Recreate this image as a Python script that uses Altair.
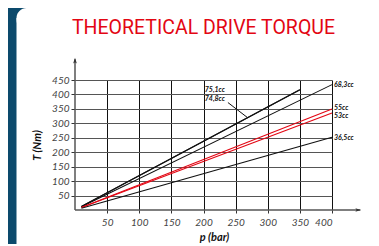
import altair as alt
import pandas as pd

# ---- data ----
series = ["75,1cc", "74,8cc", "68,3cc", "55cc", "53cc", "36,5cc"]
p_start = [10, 10, 10, 10, 10, 10]
p_end = [350, 350, 400, 400, 400, 400]
t_start = [12, 12, 11, 9, 8.5, 6]
t_end = [416, 416, 434, 350, 336, 252]
series_colors = ["#111111", "#111111", "#111111", "#e30613", "#e30613", "#111111"]

x_ticks = [50, 100, 150, 200, 250, 300, 350, 400]
y_ticks = [50, 100, 150, 200, 250, 300, 350, 400, 450]

ann_text = ["75,1cc", "74,8cc", "68,3cc", "55cc", "53cc", "36,5cc"]
ann_p = [202, 202, 403, 403, 403, 403]
ann_t = [416, 384, 434, 353, 326, 250]

leader_p = [238]
leader_p2 = [269]
leader_t = [372]
leader_t2 = [319]

title_text = "THEORETICAL DRIVE TORQUE"

# ---- tables ----
rows = []
for s, ps, pe, ts, te in zip(series, p_start, p_end, t_start, t_end):
    rows.append({"series": s, "p": ps, "T": ts, "order": 0})
    rows.append({"series": s, "p": pe, "T": te, "order": 1})
lines_df = pd.DataFrame(rows)
ann_df = pd.DataFrame({"text": ann_text, "p": ann_p, "T": ann_t})
leader_df = pd.DataFrame({"p": leader_p, "p2": leader_p2, "T": leader_t, "T2": leader_t2})

BLUE = "#0c4a6c"
W, H = 257, 130

xscale = alt.Scale(domain=[0, 400], nice=False, zero=True)
yscale = alt.Scale(domain=[0, 450], nice=False, zero=True)

label_font = "Lato"
one = pd.DataFrame({"a": [0]})

# decorative frame: blue strip on the left with a rounded white card corner
blue_strip = alt.Chart(one).mark_rect(color=BLUE).encode(
    x=alt.value(-70), x2=alt.value(-58.5), y=alt.value(-75), y2=alt.value(200)
)
blue_corner = alt.Chart(one).mark_rect(color=BLUE).encode(
    x=alt.value(-59), x2=alt.value(-48), y=alt.value(-75), y2=alt.value(-62)
)
white_corner = alt.Chart(one).mark_rect(color="white", cornerRadius=10).encode(
    x=alt.value(-58.5), x2=alt.value(-36), y=alt.value(-72), y2=alt.value(-50)
)

title = alt.Chart(one).mark_text(
    text=title_text, font="Roboto", fontSize=19.5, fontWeight=400,
    color="#e30613", align="center", baseline="alphabetic"
).encode(x=alt.value(128.5), y=alt.value(-46))

lines = alt.Chart(lines_df).mark_line(strokeWidth=1.1, clip=False).encode(
    x=alt.X("p:Q", scale=xscale, axis=alt.Axis(
        values=x_ticks, tickCount=40, labelOverlap=False, labelBound=False,
        grid=True, gridColor="#111111", gridWidth=1,
        domain=False, ticks=True, tickSize=3, tickColor="#333333",
        labelFont=label_font, labelFontStyle="italic", labelFontSize=10,
        labelColor="#444444", labelPadding=4,
        title="p (bar)", titleFont=label_font, titleFontStyle="italic",
        titleFontWeight="bold", titleFontSize=11, titleColor="#111111",
        titleX=139, titleY=30, titleBaseline="alphabetic")),
    y=alt.Y("T:Q", scale=yscale, axis=alt.Axis(
        values=y_ticks, tickCount=40, labelOverlap=False, labelBound=False,
        grid=True, gridColor="#555555", gridWidth=1.2,
        domain=False, ticks=True, tickSize=4, tickColor="#333333",
        labelFont=label_font, labelFontStyle="italic", labelFontSize=10,
        labelColor="#444444", labelPadding=2,
        title="T (Nm)", titleFont=label_font, titleFontStyle="italic",
        titleFontWeight="bold", titleFontSize=11, titleColor="#111111",
        titleAngle=270, titleX=-38, titleY=65, titleAlign="center",
        titleBaseline="middle")),
    color=alt.Color("series:N", scale=alt.Scale(domain=series, range=series_colors),
                    legend=None),
    detail="series:N",
    order="order:Q",
)

yaxis_line = alt.Chart(pd.DataFrame({"p": [0], "T": [0], "T2": [522]})).mark_rule(
    color="#555555", strokeWidth=1.5, clip=False
).encode(x="p:Q", y="T:Q", y2="T2:Q")

xaxis_line = alt.Chart(pd.DataFrame({"p": [0], "p2": [444], "T": [0]})).mark_rule(
    color="#555555", strokeWidth=1.5, clip=False
).encode(x="p:Q", x2="p2:Q", y="T:Q")

up_arrow = alt.Chart(pd.DataFrame({"p": [0], "T": [515]})).mark_point(
    shape="M0,-1L0.55,0.7L0,0.3L-0.55,0.7Z", filled=True, color="#333333",
    size=45, opacity=1, clip=False
).encode(x="p:Q", y="T:Q")

right_arrow = alt.Chart(pd.DataFrame({"p": [440], "T": [0]})).mark_point(
    shape="M1,0L-0.7,0.55L-0.3,0L-0.7,-0.55Z", filled=True, color="#333333",
    size=45, opacity=1, clip=False
).encode(x="p:Q", y="T:Q")

labels = alt.Chart(ann_df).mark_text(
    align="left", baseline="middle", font=label_font, fontStyle="italic",
    fontWeight="bold", fontSize=7, color="#111111", clip=False
).encode(x="p:Q", y="T:Q", text="text:N")

leader = alt.Chart(leader_df).mark_rule(color="#111111", strokeWidth=1, clip=False).encode(
    x="p:Q", x2="p2:Q", y="T:Q", y2="T2:Q"
)

chart = alt.layer(
    blue_strip, blue_corner, white_corner, title,
    lines, leader, labels, yaxis_line, xaxis_line, up_arrow, right_arrow
).properties(
    width=W, height=H,
    autosize=alt.AutoSizeParams(type="none"),
    padding={"left": 67, "top": 72, "right": 39, "bottom": 34},
    background="white",
).configure_view(stroke=None)

chart.save("out.html", embed_options={"renderer": "svg", "actions": False})
